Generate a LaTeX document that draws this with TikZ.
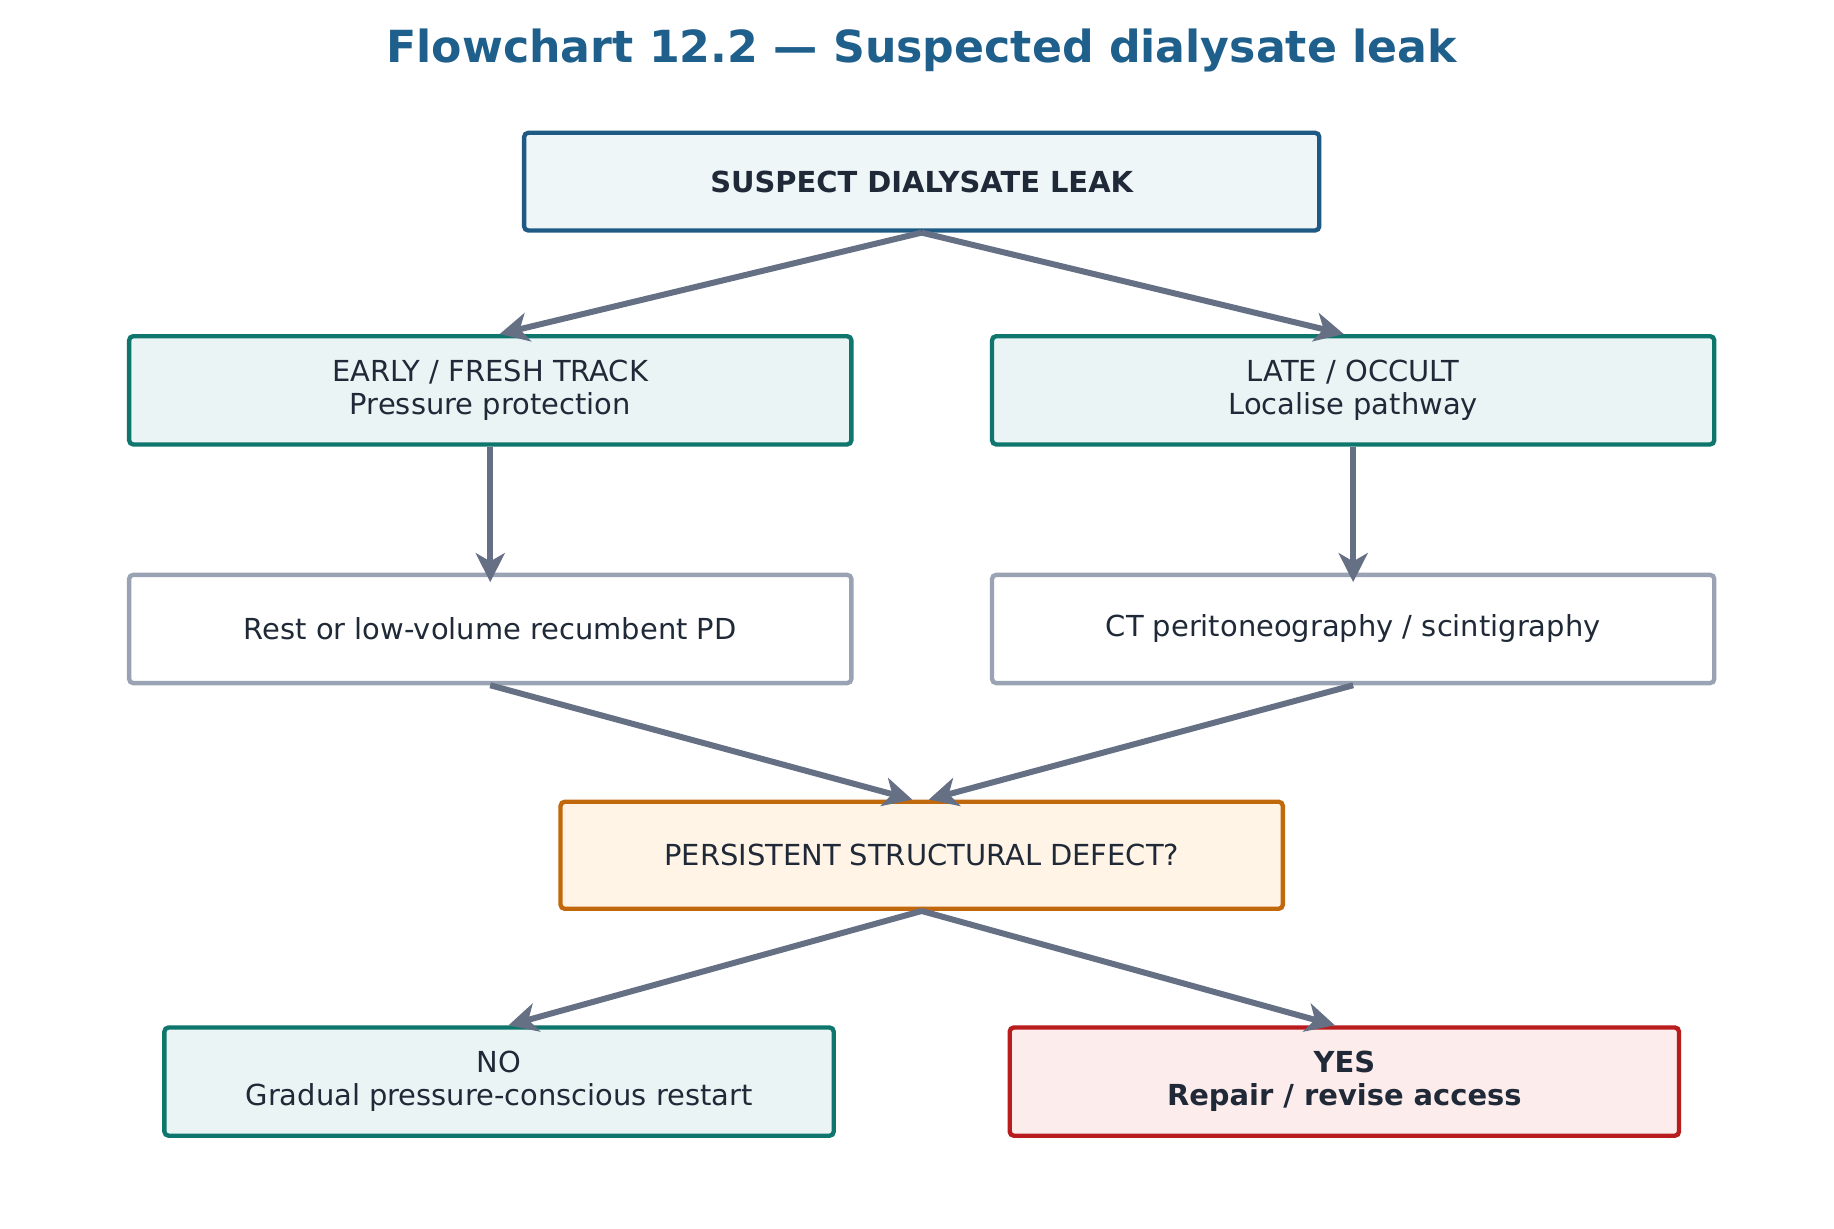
\documentclass[tikz,border=0pt]{standalone}
\usepackage{fontspec}
\setmainfont{DejaVu Sans}
\usetikzlibrary{arrows.meta}
\definecolor{titleblue}{HTML}{1F5F8B}
\definecolor{inktext}{HTML}{1F2937}
\definecolor{arrowgray}{HTML}{667085}
\definecolor{topedge}{HTML}{1F5A85}
\definecolor{topfill}{HTML}{EEF6F8}
\definecolor{tealedge}{HTML}{0F766E}
\definecolor{tealfill}{HTML}{EAF4F4}
\definecolor{grayedge}{HTML}{9AA3B3}
\definecolor{orangeedge}{HTML}{C2680C}
\definecolor{orangefill}{HTML}{FFF4E6}
\definecolor{rededge}{HTML}{B91C1C}
\definecolor{redfill}{HTML}{FDECEC}

\begin{document}
\begin{tikzpicture}[x=0.01cm,y=-0.01cm]
    \tikzset{box/.style={draw,line width=1.05pt,rounded corners=1pt,inner sep=0pt,align=center,text=inktext,font=\fontsize{7}{8}\selectfont,minimum height=0.92cm}}
    \tikzset{arrow/.style={draw=arrowgray,line width=1.45pt,-{Stealth[length=7pt,width=7pt,inset=2pt]}}}

    \useasboundingbox[fill=white] (0,0) rectangle (1560,1045);
    \node[text=titleblue,font=\fontsize{10.7}{13}\selectfont\bfseries] (title) at (784,43) {Flowchart 12.2 — Suspected dialysate leak};

    \node[box,draw=topedge,fill=topfill,minimum width=6.76cm,minimum height=0.83cm,font=\fontsize{7}{8}\selectfont\bfseries] (leak) at (784,154.5) {SUSPECT DIALYSATE LEAK};
    \node[box,draw=tealedge,fill=tealfill,minimum width=6.14cm] (early) at (417,332) {EARLY / FRESH TRACK\\Pressure protection};
    \node[box,draw=tealedge,fill=tealfill,minimum width=6.14cm] (late) at (1151,332) {LATE / OCCULT\\Localise pathway};
    \node[box,draw=grayedge,fill=white,minimum width=6.14cm] (rest) at (417,535) {Rest or low-volume recumbent PD};
    \node[box,draw=grayedge,fill=white,minimum width=6.14cm] (ct) at (1151,535) {CT peritoneography / scintigraphy};
    \node[box,draw=orangeedge,fill=orangefill,minimum width=6.14cm,minimum height=0.91cm] (defect) at (784,727.5) {PERSISTENT STRUCTURAL DEFECT?};
    \node[box,draw=tealedge,fill=tealfill,minimum width=5.69cm] (no) at (424.5,920) {NO\\Gradual pressure-conscious restart};
    \node[box,draw=rededge,fill=redfill,minimum width=5.69cm,font=\fontsize{7}{8}\selectfont\bfseries] (yes) at (1143.5,920) {YES\\Repair / revise access};

    \path[arrow] (leak.south) -- ([xshift=0.08cm]early.north);
    \path[arrow] (leak.south) -- ([xshift=-0.08cm]late.north);
    \path[arrow] (early.south) -- ([yshift=-0.08cm]rest.north);
    \path[arrow] (late.south) -- ([yshift=-0.08cm]ct.north);
    \path[arrow] (rest.south) -- ([xshift=-0.08cm]defect.north);
    \path[arrow] (ct.south) -- ([xshift=0.06cm]defect.north);
    \path[arrow] (defect.south) -- ([xshift=0.08cm]no.north);
    \path[arrow] (defect.south) -- ([xshift=-0.08cm]yes.north);
\end{tikzpicture}
\end{document}
